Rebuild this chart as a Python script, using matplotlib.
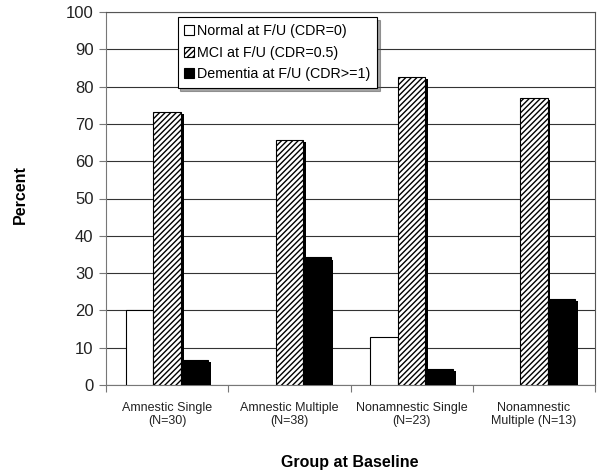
import matplotlib

matplotlib.use('Agg')
import matplotlib.pyplot as plt
import matplotlib.patheffects as pe
import numpy as np

groups = ["Amnestic Single\n(N=30)", "Amnestic Multiple\n(N=38)",
          "Nonamnestic Single\n(N=23)", "Nonamnestic\nMultiple (N=13)"]
normal = [20.0, 0.0, 13.0, 0.0]
mci = [73.3, 65.8, 82.6, 76.9]
dementia = [6.7, 34.2, 4.3, 23.1]
series_names = ["Normal at F/U (CDR=0)", "MCI at F/U (CDR=0.5)",
                "Dementia at F/U (CDR>=1)"]

plt.rcParams['font.family'] = ['Liberation Sans', 'DejaVu Sans']
plt.rcParams['hatch.linewidth'] = 1.0

fig = plt.figure(figsize=(6.0, 4.71), dpi=100)
ax = fig.add_axes([106 / 600, 1 - 385 / 471, 489 / 600, 373 / 471])

x = np.arange(len(groups))
w = 0.225
shadow = [pe.SimplePatchShadow(offset=(2, -1.5), shadow_rgbFace='black', alpha=1.0), pe.Normal()]

styles = [dict(facecolor='white', hatch=None),
          dict(facecolor='white', hatch='//////'),
          dict(facecolor='black', hatch=None)]

for i, (vals, st) in enumerate(zip([normal, mci, dementia], styles)):
    bars = ax.bar(x + (i - 1) * w, vals, w, edgecolor='black', linewidth=0.8,
                  label=series_names[i], zorder=3, **st)
    for b in bars:
        if b.get_height() > 0:
            b.set_path_effects(shadow)
        else:
            b.set_visible(False)

ax.set_xlim(-0.5, len(groups) - 0.5)
ax.set_ylim(0, 100)
ax.set_yticks(np.arange(0, 101, 10))
ax.yaxis.grid(True, color='#333333', linewidth=0.8, zorder=0)
ax.set_axisbelow(True)

ax.set_xticks(np.arange(-0.5, len(groups), 1.0))
ax.set_xticklabels([])
ax.set_xticks(x, minor=True)
ax.set_xticklabels(groups, minor=True, fontsize=9, color='#222222')
ax.tick_params(axis='x', which='minor', length=0, pad=12)
ax.tick_params(axis='x', which='major', direction='out', length=5, color='#777777')
ax.tick_params(axis='y', direction='out', length=5, color='#777777', labelsize=12,
               labelcolor='#222222', pad=4)

for s in ['left', 'bottom']:
    ax.spines[s].set_color('#777777')
for s in ['top', 'right']:
    ax.spines[s].set_color('#555555')
    ax.spines[s].set_linewidth(0.8)

fig.text(20 / 600, 1 - 195 / 471, "Percent", fontsize=11.5, fontweight='bold',
         rotation=90, ha='center', va='center')
fig.text(350 / 600, 1 - 462 / 471, "Group at Baseline", fontsize=11.5,
         fontweight='bold', ha='center', va='center')

leg = ax.legend(loc='upper left', bbox_to_anchor=(0.132, 1.005), fontsize=10.3,
                handlelength=0.7, handleheight=0.7, handletextpad=0.2,
                labelspacing=0.55, borderpad=0.45, fancybox=False, shadow=True,
                framealpha=1.0, edgecolor='black')
leg.get_frame().set_linewidth(0.8)
leg.set_zorder(5)
for h in leg.legend_handles:
    h.set_path_effects([])

fig.savefig("out.png", dpi=100)
